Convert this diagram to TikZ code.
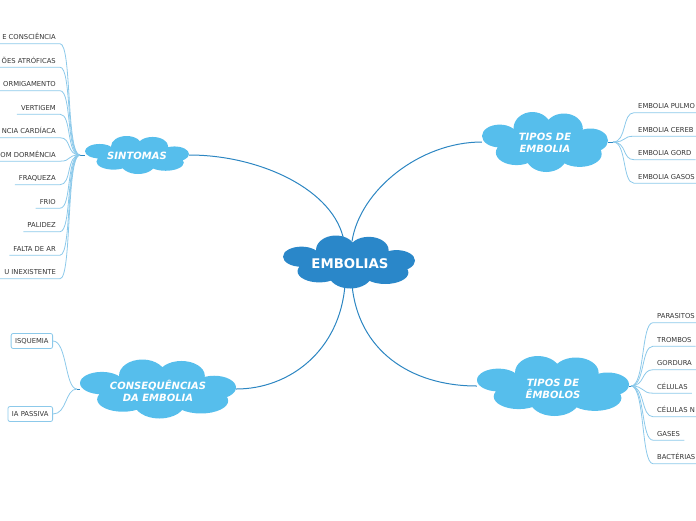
\documentclass[tikz,border=0pt]{standalone}
\usepackage{fontspec}
\setmainfont{DejaVu Sans}
\usepackage{tikz}
\usetikzlibrary{calc,backgrounds}
\definecolor{cloudlight}{HTML}{56BEEC}
\definecolor{clouddark}{HTML}{2A87C9}
\definecolor{mainline}{HTML}{2C86C2}
\definecolor{subline}{HTML}{8CC9EA}
\definecolor{leaftext}{HTML}{333333}
% cloud made of puffs: centre x, centre y, half width, half height, colour
\newcommand{\puffcloud}[5]{%
  \begin{scope}[shift={(#1,#2)}, xscale=#3, yscale=#4]
    \fill[#5] (0,0) ellipse [x radius=0.65, y radius=0.55]
      (-0.2,-0.45) ellipse [x radius=0.3, y radius=0.55]
      (0.3,-0.45) ellipse [x radius=0.3, y radius=0.5]
      (-0.72,-0.2) ellipse [x radius=0.28, y radius=0.38]
      (0.72,-0.05) ellipse [x radius=0.28, y radius=0.4]
      (-0.45,0.35) ellipse [x radius=0.33, y radius=0.42]
      (0.02,0.45) ellipse [x radius=0.33, y radius=0.55]
      (0.55,0.4) ellipse [x radius=0.35, y radius=0.43];
  \end{scope}}
\tikzset{
  cl/.style={inner sep=0pt, text=white, align=center, font=\fontsize{10}{12}\selectfont\bfseries\itshape},
  root/.style={cl, font=\fontsize{13.3}{15}\selectfont\bfseries},
  lf/.style={inner xsep=4pt, inner ysep=4pt, text height=5pt, text depth=0pt,
    text=leaftext, font=\fontsize{6.8}{8}\selectfont},
  lfl/.style={lf, anchor=east},
  lfr/.style={lf, anchor=west},
  bx/.style={lf, draw=subline, line width=0.8pt, rounded corners=2pt, inner ysep=5pt, anchor=east},
  main/.style={draw=mainline, line width=1pt},
  sub/.style={draw=subline, line width=0.8pt}
}
\begin{document}
\begin{tikzpicture}[x=1pt, y=-1pt]
    \useasboundingbox (0,0) rectangle (696,520);

    % === Clouds ===
    \puffcloud{349}{262}{66}{26.5}{clouddark}
    \puffcloud{137}{155}{52}{19}{cloudlight}
    \puffcloud{545}{142}{63}{30}{cloudlight}
    \puffcloud{158}{389}{78}{29.5}{cloudlight}
    \puffcloud{553}{386}{76}{30}{cloudlight}

    \node[root, minimum width=132, minimum height=53] (embolias) at (350,264) {EMBOLIAS};
    \node[cl, minimum width=104, minimum height=38] (sintomas) at (137,156) {SINTOMAS};
    \node[cl, minimum width=126, minimum height=60] (tiposEmbolia) at (545,143) {TIPOS DE\\EMBOLIA};
    \node[cl, minimum width=156, minimum height=59] (consequencias) at (158,391) {CONSEQUÊNCIAS\\DA EMBOLIA};
    \node[cl, minimum width=152, minimum height=60] (tiposEmbolos) at (553,389) {TIPOS DE\\ÊMBOLOS};

    % Main branches
    \begin{scope}[on background layer]
    \draw[main] ($(embolias.north)+(-6,4)$) .. controls (335,190) and (260,155) .. ($(sintomas.east)+(0,-1)$);
    \draw[main] ($(embolias.north)+(2,4)$) .. controls (360,190) and (420,142) .. ($(tiposEmbolia.west)+(0,-1)$);
    \draw[main] ($(embolias.south)+(-5,-6)$) .. controls (340,350) and (290,389) .. ($(consequencias.east)+(0,-2)$);
    \draw[main] ($(embolias.south)+(2,-6)$) .. controls (358,350) and (410,386) .. ($(tiposEmbolos.west)+(0,-3)$);
    \end{scope}

    % === Sintomas ===
    \coordinate (sj) at (80,155);
    \draw[main] (sj) -- ($(sintomas.west)+(0,-1)$);
    \foreach \t [count=\i] in {E CONSCIÊNCIA, ÕES ATRÓFICAS, ORMIGAMENTO, VERTIGEM,
        NCIA CARDÍACA, OM DORMÊNCIA, FRAQUEZA, FRIO, PALIDEZ, FALTA DE AR, U INEXISTENTE} {
        \node[lfl] (s\i) at (60, 13.5+23.5*\i) {\t};
        \draw[sub] (s\i.south west) -- (s\i.south east) .. controls +(12,0) and +(-14,0) .. (sj);
    }

    % === Tipos de embolia ===
    \coordinate (tj) at (613,142);
    \draw[main] ($(tiposEmbolia.east)+(0,-1)$) -- (tj);
    \foreach \t [count=\i] in {EMBOLIA PULMO, EMBOLIA CEREB, EMBOLIA GORD, EMBOLIA GASOS} {
        \node[lfr] (t\i) at (634, 82.5+23.5*\i) {\t};
        \draw[sub] (tj) .. controls +(14,0) and +(-12,0) .. (t\i.south west) -- (t\i.south east);
    }

    % === Tipos de embolos ===
    \coordinate (ej) at (631,386);
    \draw[main] ($(tiposEmbolos.east)+(0,-3)$) -- (ej);
    \foreach \t [count=\i] in {PARASITOS, TROMBOS, GORDURA, CÉLULAS, CÉLULAS N, GASES, BACTÉRIAS} {
        \node[lfr] (e\i) at (653, 292.5+23.5*\i) {\t};
        \draw[sub] (ej) .. controls +(14,0) and +(-12,0) .. (e\i.south west) -- (e\i.south east);
    }

    % === Consequencias ===
    \coordinate (cj) at (77,389);
    \draw[main] (cj) -- ($(consequencias.west)+(0,-2)$);
    \node[bx] (isquemia) at (53,341) {ISQUEMIA};
    \node[bx] (passiva) at (53,414) {IA PASSIVA};
    \draw[sub] (isquemia.east) .. controls +(14,0) and +(-12,0) .. (cj);
    \draw[sub] (passiva.east) .. controls +(14,0) and +(-12,0) .. (cj);

\end{tikzpicture}
\end{document}
